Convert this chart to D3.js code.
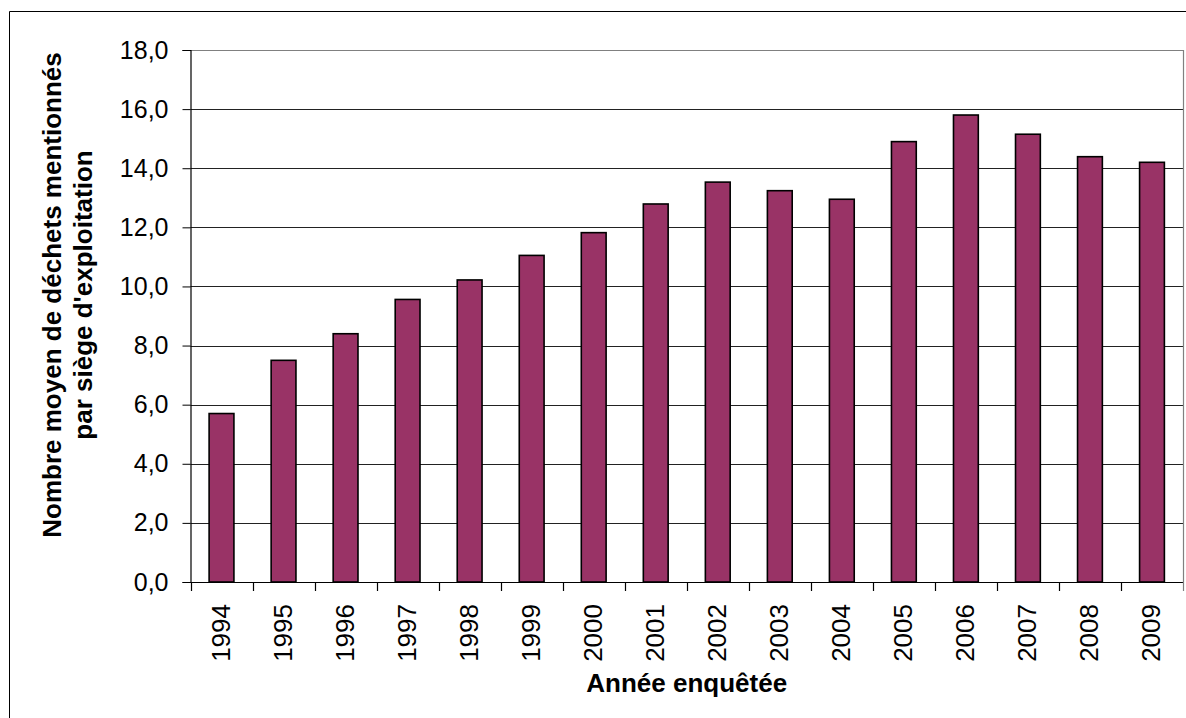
<!DOCTYPE html>
<html>
<head>
<meta charset="utf-8">
<script src="https://cdn.jsdelivr.net/npm/d3@7"></script>
<style>
  html, body { margin: 0; padding: 0; background: #fff; }
  svg { display: block; font-family: Arial, "Liberation Sans", sans-serif; }
</style>
</head>
<body>
<svg id="chart" width="1186" height="718"></svg>
<script>
// Survey years and mean number of waste types reported per farm
const years = ["1994", "1995", "1996", "1997", "1998", "1999", "2000", "2001",
               "2002", "2003", "2004", "2005", "2006", "2007", "2008", "2009"];
const meanWaste = [5.7, 7.5, 8.4, 9.56, 10.22, 11.05, 11.82, 12.79,
                   13.53, 13.24, 12.95, 14.9, 15.8, 15.15, 14.39, 14.2];
const yTicks = [0, 2, 4, 6, 8, 10, 12, 14, 16, 18];

const svg = d3.select("#chart");
const W = 1186, H = 718;
const plot = { left: 190.5, right: 1183, top: 50, bottom: 582 };

// Outer chart frame (left and top edges visible)
svg.append("path")
  .attr("d", `M9.5,${H} V11.5 H${W}`)
  .attr("fill", "none").attr("stroke", "#000").attr("stroke-width", 1);

const x = d3.scaleBand().domain(years)
  .range([plot.left, plot.right]).paddingInner(0.6).paddingOuter(0.3);
const xCat = d3.scaleBand().domain(years).range([plot.left, plot.right]);
const y = d3.scaleLinear().domain([0, 18]).range([plot.bottom, plot.top]);

const fmt = v => v.toFixed(1).replace(".", ",");

// Horizontal gridlines
svg.append("g").selectAll("line").data(yTicks.filter(d => d > 0 && d < 18)).join("line")
  .attr("x1", plot.left).attr("x2", plot.right)
  .attr("y1", d => Math.round(y(d)) + 0.5).attr("y2", d => Math.round(y(d)) + 0.5)
  .attr("stroke", "#222").attr("stroke-width", 1);

// Plot area border (top and right)
svg.append("path")
  .attr("d", `M${plot.left},${plot.top + 0.5} H${plot.right + 0.5} V${plot.bottom}`)
  .attr("fill", "none").attr("stroke", "#808080").attr("stroke-width", 1.2);

// Bars
svg.append("g").selectAll("rect").data(years).join("rect")
  .attr("x", d => x(d))
  .attr("width", x.bandwidth())
  .attr("y", (d, i) => y(meanWaste[i]))
  .attr("height", (d, i) => plot.bottom - y(meanWaste[i]))
  .attr("fill", "#993366")
  .attr("stroke", "#000").attr("stroke-width", 1.6);

// Y axis
const yAxis = d3.axisLeft(y).tickValues(yTicks).tickFormat(fmt).tickSize(8).tickPadding(14);
const gy = svg.append("g").attr("transform", `translate(${plot.left},0)`).call(yAxis);
gy.select(".domain").attr("stroke", "#000").attr("stroke-width", 1.2);
gy.selectAll(".tick line").attr("stroke", "#000");
gy.selectAll("text").attr("font-size", 25).attr("fill", "#000")
  .attr("font-family", "Arial, 'Liberation Sans', sans-serif");

// X axis line with ticks between categories
svg.append("line")
  .attr("x1", plot.left).attr("x2", plot.right)
  .attr("y1", plot.bottom + 0.5).attr("y2", plot.bottom + 0.5)
  .attr("stroke", "#000").attr("stroke-width", 1.2);
const bounds = years.map(d => xCat(d)).concat([plot.right]);
svg.append("g").selectAll("line").data(bounds).join("line")
  .attr("x1", d => Math.round(d) + 0.5).attr("x2", d => Math.round(d) + 0.5)
  .attr("y1", plot.bottom).attr("y2", plot.bottom + 9)
  .attr("stroke", (d, i) => i === bounds.length - 1 ? "#808080" : "#000")
  .attr("stroke-width", 1.2);

// Year labels, rotated
svg.append("g").selectAll("text").data(years).join("text")
  .attr("transform", d => `translate(${xCat(d) + xCat.bandwidth() / 2 - 1},604) rotate(-90)`)
  .attr("text-anchor", "end").attr("dy", "0.35em")
  .attr("font-size", 26).attr("fill", "#000")
  .text(d => d);

// X axis title
svg.append("text")
  .attr("x", (plot.left + plot.right) / 2).attr("y", 692)
  .attr("text-anchor", "middle").attr("font-size", 26).attr("font-weight", "bold")
  .text("Année enquêtée");

// Y axis title (two lines)
const yt = svg.append("text")
  .attr("transform", "translate(0,295) rotate(-90)")
  .attr("text-anchor", "middle").attr("font-size", 26).attr("font-weight", "bold");
yt.append("tspan").attr("x", 0).attr("y", 61).text("Nombre moyen de déchets mentionnés");
yt.append("tspan").attr("x", 0).attr("y", 92).text("par siège d'exploitation");
</script>
</body>
</html>
